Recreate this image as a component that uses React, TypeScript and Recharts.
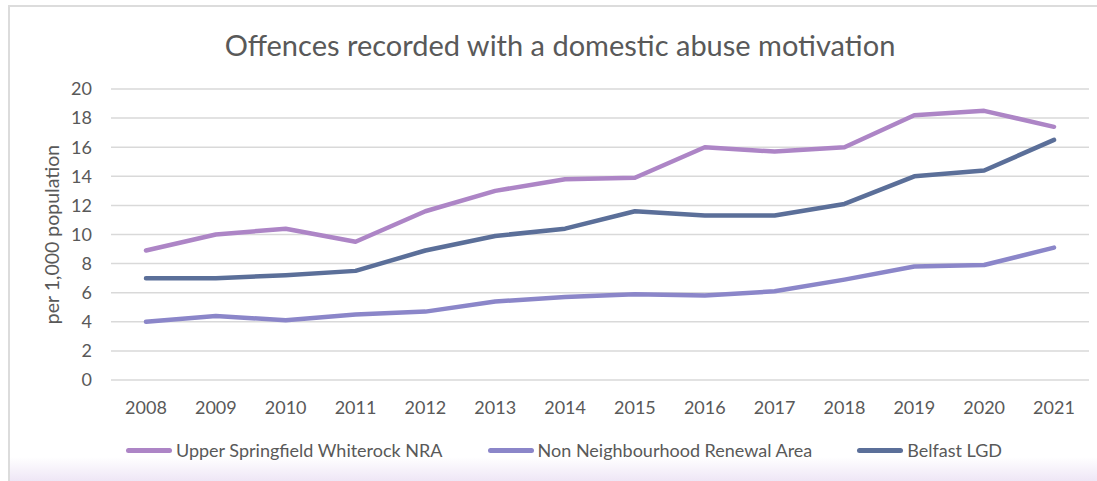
import React from "react";
import { LineChart, Line, XAxis, YAxis, CartesianGrid } from "recharts";

const years = ["2008","2009","2010","2011","2012","2013","2014","2015","2016","2017","2018","2019","2020","2021"];
const upperSpringfield = [8.9, 10.0, 10.4, 9.5, 11.6, 13.0, 13.8, 13.9, 16.0, 15.7, 16.0, 18.2, 18.5, 17.4];
const nonNRA = [4.0, 4.4, 4.1, 4.5, 4.7, 5.4, 5.7, 5.9, 5.8, 6.1, 6.9, 7.8, 7.9, 9.1];
const belfast = [7.0, 7.0, 7.2, 7.5, 8.9, 9.9, 10.4, 11.6, 11.3, 11.3, 12.1, 14.0, 14.4, 16.5];
const yTicks = [0, 2, 4, 6, 8, 10, 12, 14, 16, 18, 20];

const series = [
  { key: "usw", name: "Upper Springfield Whiterock NRA", color: "#ad85c6", values: upperSpringfield },
  { key: "nnra", name: "Non Neighbourhood Renewal Area", color: "#8b86c9", values: nonNRA },
  { key: "bel", name: "Belfast LGD", color: "#5b6f99", values: belfast },
];

const data = years.map((y, i) => {
  const row: Record<string, any> = { year: y };
  series.forEach((s) => { row[s.key] = s.values[i]; });
  return row;
});

const FONT = "Lato, 'Open Sans', sans-serif";
const TEXT = "#595959";

export default function App() {
  return (
    <div style={{ position: "absolute", left: 0, top: 0, width: 1097, height: 481, background: "#fff", overflow: "hidden", fontFamily: FONT }}>
      <div style={{ position: "absolute", left: 8, top: 5, width: 1200, height: 480, borderTop: "2px solid #dcdcdc", borderLeft: "2px solid #dcdcdc", background: "linear-gradient(to bottom, #ffffff 0px, #ffffff 450px, #ede4f5 476px)" }} />
      <div style={{ position: "absolute", left: 0, width: 1120, top: 27, textAlign: "center", fontSize: 29, color: TEXT, lineHeight: "36px" }}>
        Offences recorded with a domestic abuse motivation
      </div>
      <div style={{ position: "absolute", left: 0, top: 0 }}>
        <LineChart width={1097} height={481} data={data} margin={{ top: 89, right: 8, bottom: 61, left: 0 }}>
          <CartesianGrid vertical={false} stroke="#d9d9d9" strokeWidth={1.5} />
          <XAxis dataKey="year" axisLine={false} tickLine={false} height={40} tickMargin={15}
            padding={{ left: 35, right: 35 }}
            tick={{ fill: TEXT, fontSize: 18, fontFamily: FONT }} interval={0} />
          <YAxis domain={[0, 20]} ticks={yTicks} axisLine={false} tickLine={false} width={111} tickMargin={13}
            tick={{ fill: TEXT, fontSize: 18, fontFamily: FONT }}
            label={{ value: "per 1,000 population", angle: -90, position: "center", dx: -3, fill: TEXT, fontSize: 19.5, fontFamily: FONT }} />
          {series.map((s) => (
            <Line key={s.key} type="linear" dataKey={s.key} name={s.name} stroke={s.color} strokeWidth={4.5}
              dot={false} activeDot={false} isAnimationActive={false} strokeLinecap="round" strokeLinejoin="round" />
          ))}
        </LineChart>
      </div>
      <div style={{ position: "absolute", left: 0, width: 1128, top: 438, display: "flex", justifyContent: "center", gap: 45, fontSize: 18, color: TEXT, lineHeight: "24px" }}>
        {series.map((s) => (
          <div key={s.key} style={{ display: "flex", alignItems: "center" }}>
            <span style={{ display: "inline-block", width: 46, height: 5, borderRadius: 3, background: s.color, marginRight: 4 }} />
            <span>{s.name}</span>
          </div>
        ))}
      </div>
    </div>
  );
}
